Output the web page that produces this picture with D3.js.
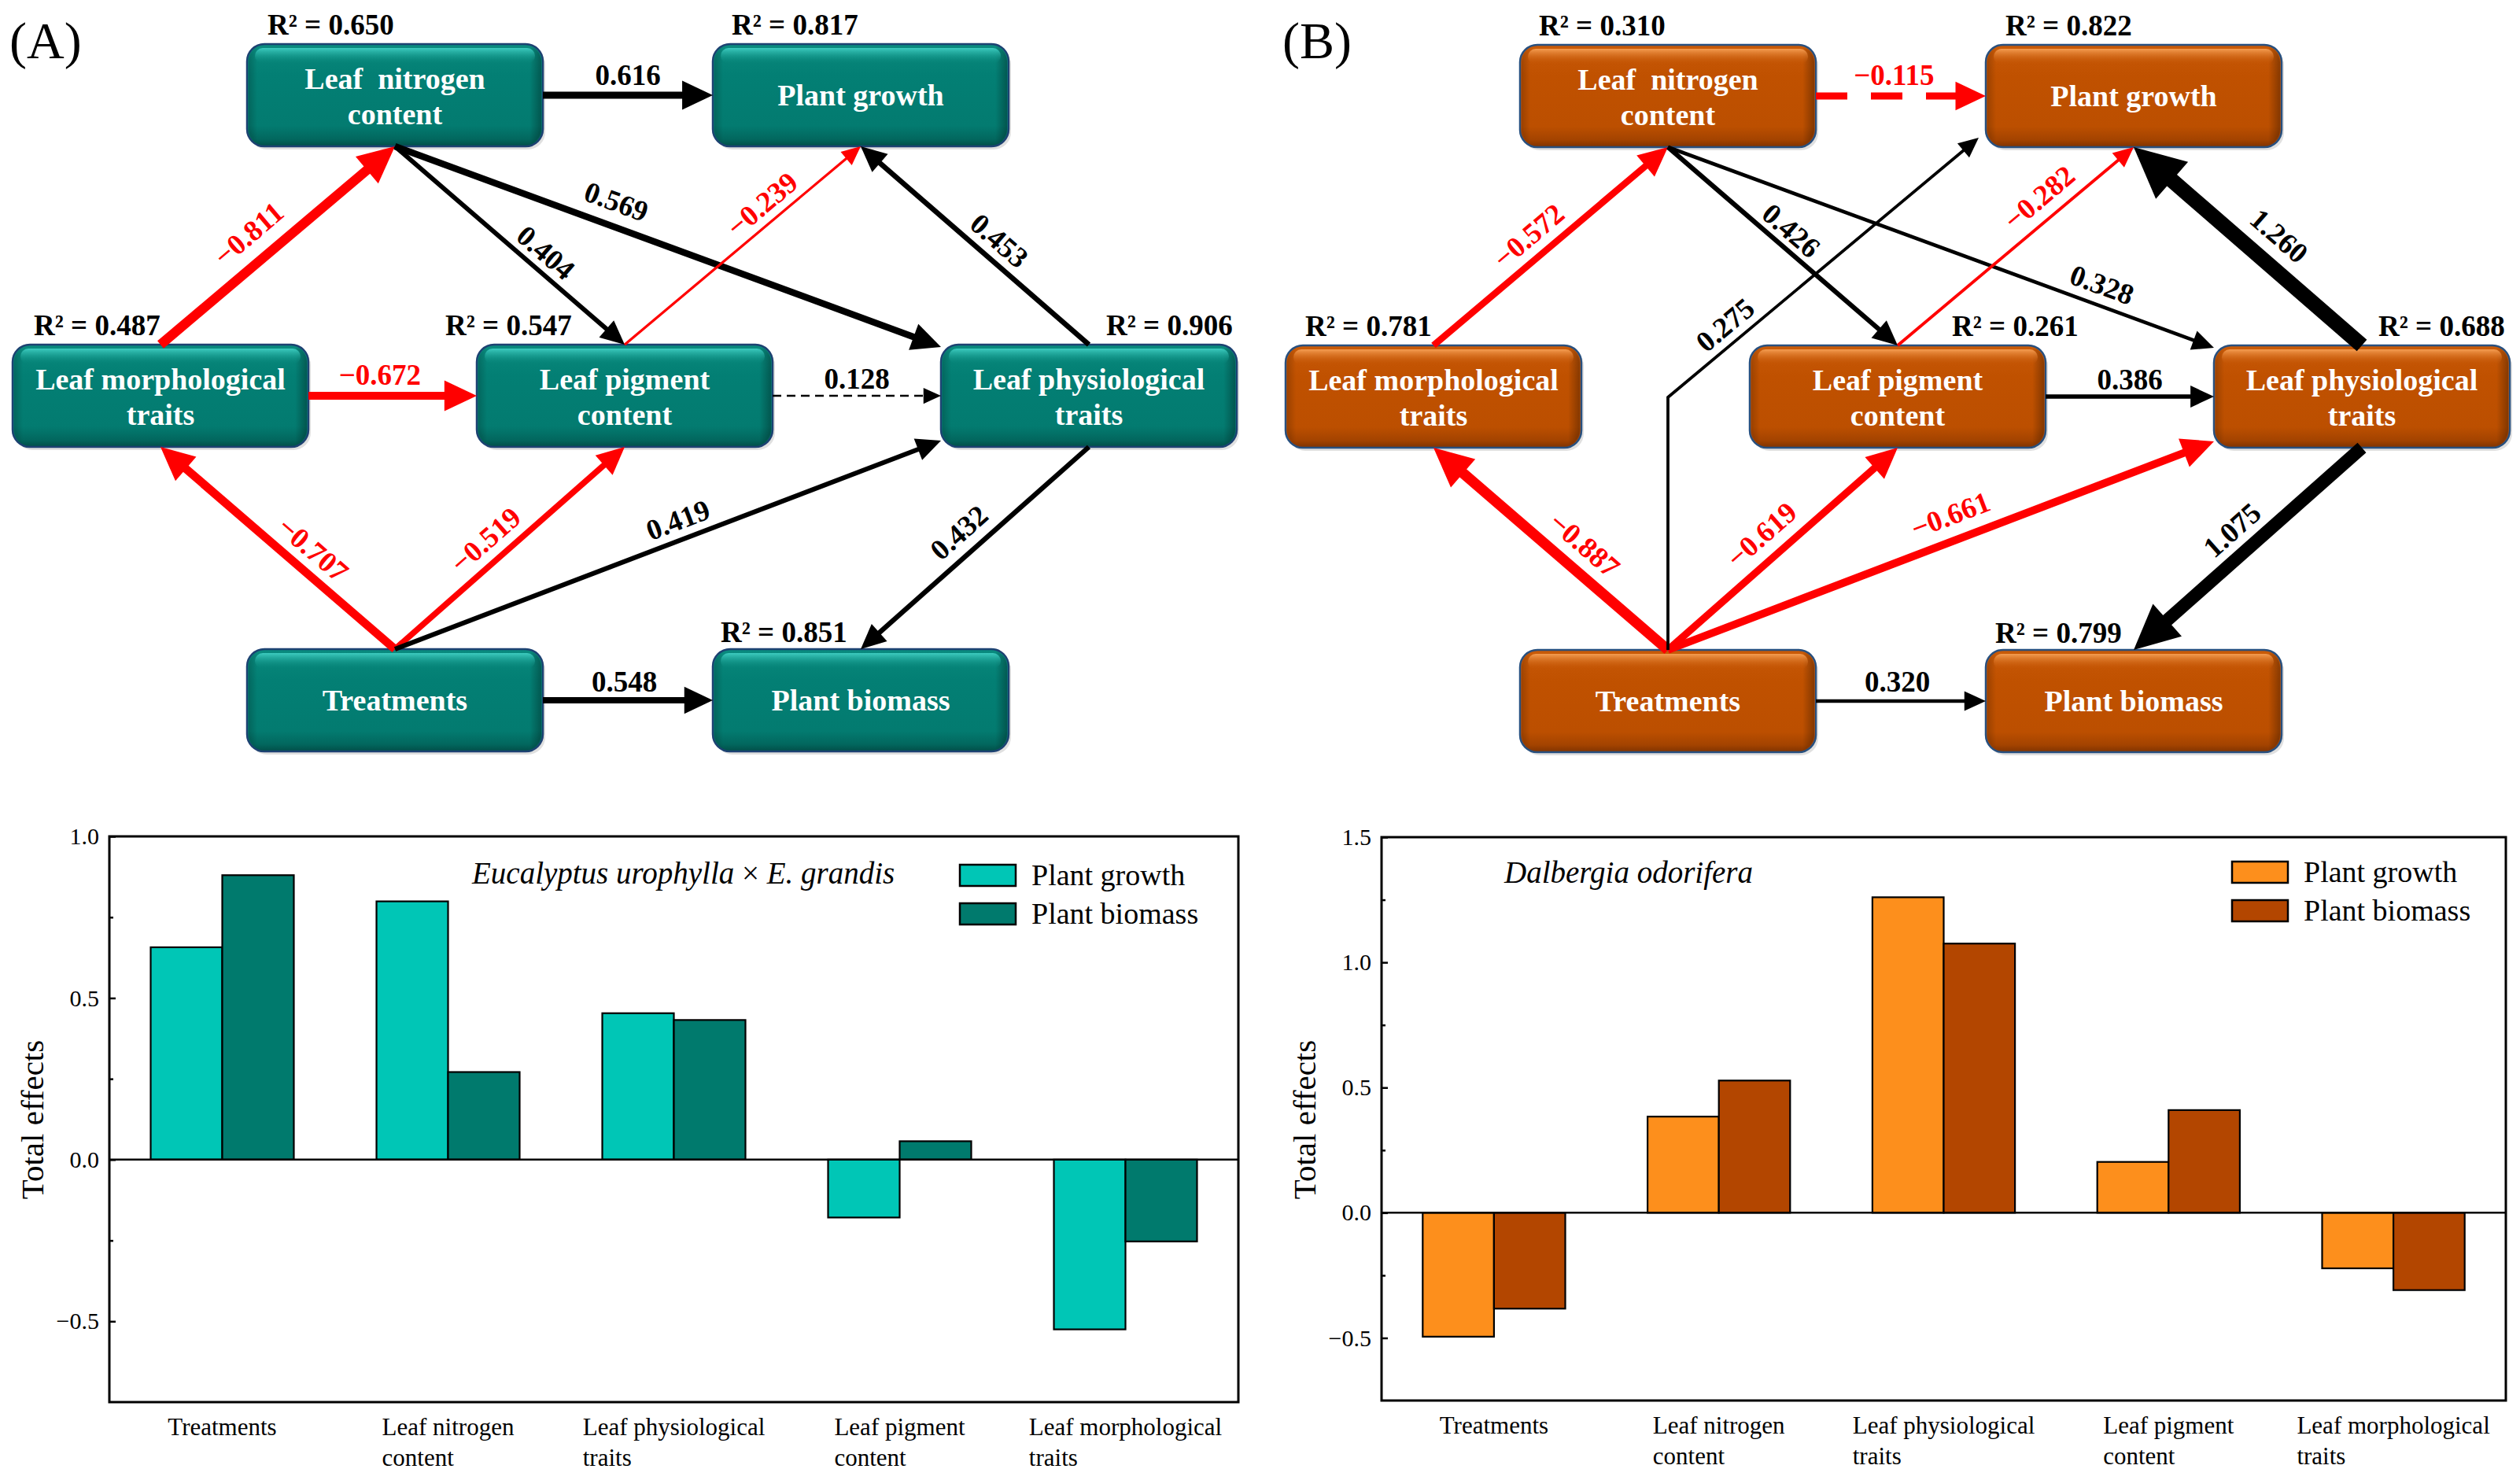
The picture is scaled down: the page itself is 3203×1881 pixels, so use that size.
<!DOCTYPE html>
<html><head><meta charset="utf-8">
<script src="https://cdn.jsdelivr.net/npm/d3@7"></script>
<style>
html,body{margin:0;padding:0;background:#fff;}
svg{display:block;}
</style></head><body>
<svg id="chart" width="3203" height="1881"></svg>
<script>
// ================= DATA =================
const nodeKeys  = ["N","G","M","P","Ph","T","B"];
const nodeLines = [["Leaf  nitrogen","content"],["Plant growth"],["Leaf morphological","traits"],["Leaf pigment","content"],["Leaf physiological","traits"],["Treatments"],["Plant biomass"]];
const r2A = [0.650, 0.817, 0.487, 0.547, 0.906, null, 0.851];
const r2B = [0.310, 0.822, 0.781, 0.261, 0.688, null, 0.799];

const pathFromA = ["N","M","N","N","P","Ph","M","P","T","T","T","Ph","T"];
const pathToA   = ["G","N","P","Ph","G","G","P","Ph","M","P","Ph","B","B"];
const pathCoefA = [0.616,-0.811,0.404,0.569,-0.239,0.453,-0.672,0.128,-0.707,-0.519,0.419,0.432,0.548];
const pathSigA  = [1,1,1,1,1,1,1,0,1,1,1,1,1];

const pathFromB = ["N","M","N","N","P","Ph","P","T","T","T","T","Ph","T"];
const pathToB   = ["G","N","P","Ph","G","G","Ph","M","P","Ph","G","B","B"];
const pathCoefB = [-0.115,-0.572,0.426,0.328,-0.282,1.260,0.386,-0.887,-0.619,-0.661,0.275,1.075,0.320];
const pathSigB  = [0,1,1,1,1,1,1,1,1,1,1,1,1];

const categories    = ["Treatments","Leaf nitrogen content","Leaf physiological traits","Leaf pigment content","Leaf morphological traits"];
const categoryLines = [["Treatments"],["Leaf nitrogen","content"],["Leaf physiological","traits"],["Leaf pigment","content"],["Leaf morphological","traits"]];
const seriesNames = ["Plant growth","Plant biomass"];
const growthA  = [0.657, 0.799, 0.453, -0.179, -0.525];
const biomassA = [0.880, 0.271, 0.432, 0.057, -0.253];
const growthB  = [-0.495, 0.384, 1.260, 0.203, -0.222];
const biomassB = [-0.383, 0.528, 1.075, 0.410, -0.309];
const yTicksA = [-0.5, 0.0, 0.5, 1.0];
const yMinorA = [-0.25, 0.25, 0.75];
const yTicksB = [-0.5, 0.0, 0.5, 1.0, 1.5];
const yMinorB = [-0.25, 0.25, 0.75, 1.25];
const yTitle = "Total effects";
const speciesA = [["Eucalyptus urophylla","italic"],[" × ","normal"],["E. grandis","italic"]];
const speciesB = [["Dalbergia odorifera","italic"]];

// ================= LAYOUT / STYLE =================
const FONT = "'Liberation Serif','Times New Roman',serif";
const BOX_W = 376, BOX_H = 130;
const nodePos = {N:[314,56], G:[906,56], M:[16,438], P:[606,438], Ph:[1196,438], T:[314,825], B:[906,825]};
const anchorsA = [["right","left"],["top","bottom"],["bottom","top"],["bottom","tl"],["top","bottom"],["top","bottom"],["right","left"],["right","left"],["top","bottom"],["top","bottom"],["top","bl"],["bottom","top"],["right","left"]];
const labelPosA = [[0.5,26],[0.452,35],[0.605,23],[0.39,31],[0.634,24],[0.449,-25],[0.425,27],[0.5,22],[0.411,-28],[0.458,28],[0.531,25],[0.505,-28],[0.48,24]];
const anchorsB = [["right","left"],["top","bottom"],["bottom","top"],["bottom","tl"],["top","bottom"],["top","bottom"],["right","left"],["top","bottom"],["top","bottom"],["top","bl"],["elbow","corner"],["bottom","top"],["right","left"]];
const labelPosB = [[0.46,27],[0.467,28],[0.487,22],[0.782,26],[0.66,28],[0.444,-36],[0.5,22],[0.426,-32],[0.478,31],[0.534,32],[0.223,24],[0.498,-31],[0.48,25]];
const r2PosA = {N:[340,44], G:[930,44], M:[43,426], P:[566,426], Ph:[1406,426], B:[916,816]};
const r2PosB = {N:[1956,45], G:[2549,45], M:[1659,427], P:[2481,427], Ph:[3023,427], B:[2536,817]};

const svg = d3.select("#chart").attr("font-family", FONT);
const defs = svg.append("defs");
function makeGrad(id, stops, horiz) {
  const lg = defs.append("linearGradient").attr("id", id)
    .attr("x1",0).attr("y1",0).attr("x2",horiz?1:0).attr("y2",horiz?0:1);
  stops.forEach(([o,c,op]) => lg.append("stop").attr("offset",o).attr("stop-color",c).attr("stop-opacity",op==null?1:op));
}
makeGrad("tealBody", [[0,"#0a8b7f"],[0.15,"#068478"],[0.3,"#037f74"],[0.8,"#037b70"],[0.93,"#02675e"],[1,"#014e48"]]);
makeGrad("tealHi", [[0,"#40cfc3",0.95],[1,"#0a8a7e",0]]);
makeGrad("orangeBody", [[0,"#c95b08"],[0.15,"#c45504"],[0.3,"#c05100"],[0.8,"#bc4f00"],[0.93,"#a34300"],[1,"#7f3300"]]);
makeGrad("orangeHi", [[0,"#f7a055",0.95],[1,"#c45504",0]]);
makeGrad("sideShade", [[0,"#000",0.18],[0.03,"#000",0],[0.96,"#000",0],[1,"#000",0.3]], true);

const wScale = d3.scaleLinear().domain([0.2,1.3]).range([2.6,20]).clamp(true);

function drawDiagram(opt) {
  const g = svg.append("g");
  const off = opt.offset;
  const box = k => { const p = nodePos[k]; return [p[0]+off[0], p[1]+off[1]]; };
  function anchor(k, type) {
    const [X,Y] = box(k);
    switch (type) {
      case "top": return [X+BOX_W/2, Y];
      case "bottom": return [X+BOX_W/2, Y+BOX_H];
      case "left": return [X, Y+BOX_H/2];
      case "right": return [X+BOX_W, Y+BOX_H/2];
      case "tl": return [X, Y+3];
      case "bl": return [X, Y+BOX_H-8];
      case "corner": return [X-9, Y+BOX_H-12];
    }
  }
  g.append("text").attr("x", off[0]+12).attr("y", 74).attr("font-size", 66).text(opt.letter);

  nodeKeys.forEach((k,i) => {
    const [X,Y] = box(k);
    const bg = g.append("g");
    bg.append("rect").attr("x",X+3).attr("y",Y+4).attr("width",BOX_W).attr("height",BOX_H).attr("rx",22)
      .attr("fill","#000").attr("opacity",0.12);
    bg.append("rect").attr("x",X).attr("y",Y).attr("width",BOX_W).attr("height",BOX_H).attr("rx",22)
      .attr("fill",`url(#${opt.theme}Body)`).attr("stroke",opt.border).attr("stroke-width",2.5);
    bg.append("rect").attr("x",X+2).attr("y",Y+2).attr("width",BOX_W-4).attr("height",BOX_H-4).attr("rx",20)
      .attr("fill","url(#sideShade)");
    bg.append("rect").attr("x",X+10).attr("y",Y+5).attr("width",BOX_W-20).attr("height",20).attr("rx",10)
      .attr("fill",`url(#${opt.theme}Hi)`);
    const lines = nodeLines[i];
    const ys = lines.length === 2 ? [Y+57, Y+102] : [Y+78];
    lines.forEach((ln,j) => {
      bg.append("text").attr("x",X+BOX_W/2).attr("y",ys[j]).attr("text-anchor","middle")
        .attr("font-size",38).attr("font-weight","bold").attr("fill","#fff")
        .style("white-space","pre").text(ln);
    });
    if (opt.r2[i] != null) {
      const p = opt.r2Pos[k];
      g.append("text").attr("x",p[0]).attr("y",p[1]).attr("font-size",37).attr("font-weight","bold")
        .attr("fill","#000").text("R² = " + opt.r2[i].toFixed(3));
    }
  });

  opt.from.forEach((f,i) => {
    const t = opt.to[i], v = opt.coef[i], sig = opt.sig[i];
    const [a0,a1] = opt.anchors[i];
    let pts;
    if (a0 === "elbow") {
      const s = anchor(f,"top");
      const mid = anchor("M","right");
      const e = anchor(t, a1);
      pts = [s, [s[0], mid[1]+1], e];
    } else {
      pts = [anchor(f,a0), anchor(t,a1)];
    }
    const color = v < 0 ? "#ff0000" : "#000000";
    let w = wScale(Math.abs(v));
    if (!sig && opt.dashWidth) w = opt.dashWidth;
    const p0 = pts[pts.length-2], p1 = pts[pts.length-1];
    const dx = p1[0]-p0[0], dy = p1[1]-p0[1], len = Math.hypot(dx,dy);
    const ux = dx/len, uy = dy/len, nx = uy, ny = -ux;
    const L = 16 + 2.5*w, H = 7 + 1.25*w;
    const linePts = pts.slice(0,-1).concat([[p1[0]-ux*L*0.9, p1[1]-uy*L*0.9]]);
    g.append("path").attr("d", d3.line()(linePts)).attr("fill","none").attr("stroke",color)
      .attr("stroke-width",w).attr("stroke-linejoin","miter")
      .attr("stroke-dasharray", sig ? null : opt.dash);
    const bx = p1[0]-ux*L, by = p1[1]-uy*L;
    g.append("path").attr("d", `M${p1[0]},${p1[1]}L${bx+nx*H},${by+ny*H}L${bx-nx*H},${by-ny*H}Z`).attr("fill",color);
    const [lt, lo] = opt.labelPos[i];
    const lx = p0[0]+dx*lt+nx*lo, ly = p0[1]+dy*lt+ny*lo;
    let ang = Math.atan2(dy,dx)*180/Math.PI;
    if (ang > 90) ang -= 180; if (ang < -90) ang += 180;
    g.append("text").attr("transform",`translate(${lx},${ly}) rotate(${ang})`)
      .attr("text-anchor","middle").attr("dominant-baseline","central")
      .attr("font-size",37).attr("font-weight","bold").attr("fill",color)
      .text(d3.format(".3f")(v));
  });
}

drawDiagram({letter:"(A)", offset:[0,0], theme:"teal", border:"#1d4272",
  r2:r2A, r2Pos:r2PosA, from:pathFromA, to:pathToA, coef:pathCoefA, sig:pathSigA,
  anchors:anchorsA, labelPos:labelPosA, dash:"11,7", dashWidth:2.5});
drawDiagram({letter:"(B)", offset:[1618,1], theme:"orange", border:"#28507f",
  r2:r2B, r2Pos:r2PosB, from:pathFromB, to:pathToB, coef:pathCoefB, sig:pathSigB,
  anchors:anchorsB, labelPos:labelPosB, dash:"40,30", dashWidth:9});

// ================= BAR CHARTS =================
function drawBars(cfg) {
  const g = svg.append("g");
  const [fx0, fy0, fx1, fy1] = cfg.frame;
  const x = d3.scaleBand().domain(categories).range([fx0, fx1]).paddingInner(0.366).paddingOuter(0.183);
  const xs = d3.scaleBand().domain(seriesNames).range([0, x.bandwidth()]);
  const y = d3.scaleLinear().domain(cfg.domain).range([fy1, fy0]);
  const rows = categories.map((c,i) => ({c, vals:[cfg.growth[i], cfg.biomass[i]]}));
  g.selectAll("g.grp").data(rows).join("g").attr("class","grp")
    .attr("transform", d => `translate(${x(d.c)},0)`)
    .selectAll("rect").data(d => d.vals.map((v,j) => ({v, s:seriesNames[j], j}))).join("rect")
    .attr("x", d => xs(d.s)).attr("width", xs.bandwidth())
    .attr("y", d => y(Math.max(0,d.v))).attr("height", d => Math.abs(y(d.v)-y(0)))
    .attr("fill", d => cfg.colors[d.j]).attr("stroke","#000").attr("stroke-width",2.2);
  g.append("line").attr("x1",fx0).attr("x2",fx1).attr("y1",y(0)).attr("y2",y(0))
    .attr("stroke","#000").attr("stroke-width",2.5);
  g.append("rect").attr("x",fx0).attr("y",fy0).attr("width",fx1-fx0).attr("height",fy1-fy0)
    .attr("fill","none").attr("stroke","#000").attr("stroke-width",3);
  const ax = g.append("g").attr("transform",`translate(${fx0},0)`)
    .call(d3.axisLeft(y).tickValues(cfg.ticks).tickSize(-8).tickPadding(13).tickFormat(d3.format(".1f")));
  ax.attr("font-family", FONT).attr("font-size", 30);
  ax.select(".domain").remove();
  ax.selectAll("line").attr("stroke","#000").attr("stroke-width",2.5);
  ax.selectAll("text").attr("fill","#000");
  const axm = g.append("g").attr("transform",`translate(${fx0},0)`)
    .call(d3.axisLeft(y).tickValues(cfg.minor).tickSize(-5).tickFormat(""));
  axm.select(".domain").remove();
  axm.selectAll("line").attr("stroke","#000").attr("stroke-width",2.5);
  g.append("text").attr("transform",`translate(${cfg.titleX},${cfg.titleY}) rotate(-90)`)
    .attr("text-anchor","middle").attr("dominant-baseline","central").attr("font-size",41).text(yTitle);
  categories.forEach((c,i) => {
    const cx = x(c) + x.bandwidth()/2;
    const lines = categoryLines[i];
    const t = g.append("text").attr("font-size",31).attr("fill","#000");
    const first = t.append("tspan").attr("y", cfg.catBase[0]).text(lines[0]);
    const w1 = first.node().getComputedTextLength();
    const sx = cx - w1/2;
    first.attr("x", sx);
    if (lines[1]) t.append("tspan").attr("x", sx).attr("y", cfg.catBase[1]).text(lines[1]);
  });
  const st = g.append("text").attr("x",cfg.speciesPos[0]).attr("y",cfg.speciesPos[1]).attr("font-size",39);
  cfg.species.forEach(([s,style]) => st.append("tspan").attr("font-style",style).style("white-space","pre").text(s));
  seriesNames.forEach((s,j) => {
    const [lx, ly] = cfg.legend[j];
    g.append("rect").attr("x",lx).attr("y",ly).attr("width",71).attr("height",27)
      .attr("fill",cfg.colors[j]).attr("stroke","#000").attr("stroke-width",2.5);
    g.append("text").attr("x",lx+91).attr("y",ly+26).attr("font-size",38).text(s);
  });
}

drawBars({frame:[139,1063,1574,1782], domain:[-0.75,1.0], ticks:yTicksA, minor:yMinorA,
  growth:growthA, biomass:biomassA, colors:["#00c6b6","#007a6d"],
  titleX:41, titleY:1423, catBase:[1824,1863],
  species:speciesA, speciesPos:[600,1123], legend:[[1220,1099],[1220,1148]]});
drawBars({frame:[1756,1064,3185,1780], domain:[-0.75,1.5], ticks:yTicksB, minor:yMinorB,
  growth:growthB, biomass:biomassB, colors:["#fd8f1c","#b34600"],
  titleX:1658, titleY:1423, catBase:[1822,1861],
  species:speciesB, speciesPos:[1912,1122], legend:[[2837,1095],[2837,1144]]});
</script>
</body></html>
